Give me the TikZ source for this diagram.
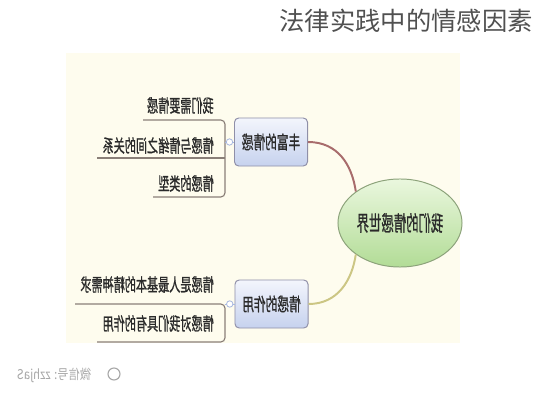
\documentclass[tikz,border=0pt]{standalone}
\usepackage{fontspec}
\usepackage{graphicx}
\newfontfamily\cjk{Noto Sans CJK SC}
\newfontfamily\cjkheavy[FakeBold=1.3]{Noto Sans CJK SC}
\usetikzlibrary{shapes.geometric,calc}
\definecolor{cream}{HTML}{FEFCEE}
\definecolor{inktext}{HTML}{2A2A2A}
\definecolor{titlegray}{HTML}{505050}
\definecolor{markgray}{HTML}{A8A8A8}
\definecolor{rootline}{HTML}{8CA27A}
\definecolor{roottop}{HTML}{EAF7DE}
\definecolor{rootbot}{HTML}{B2DC96}
\definecolor{hubline}{HTML}{8F8FA8}
\definecolor{hubtop}{HTML}{F3F5FC}
\definecolor{hubbot}{HTML}{C6D2EE}
\definecolor{stemline}{HTML}{8A7F78}
\definecolor{knobline}{HTML}{A8B8E0}
\definecolor{branchup}{HTML}{A86C6C}
\definecolor{branchdown}{HTML}{CCC684}
\newcommand{\Flip}[2]{\scalebox{-1}[#1]{#2}} % mirrored text, stretched upwards

\begin{document}
\begin{tikzpicture}[x=0.025cm, y=-0.025cm,
root/.style={ellipse, draw=rootline, line width=.7pt, top color=roottop, bottom color=rootbot,
  minimum width=3.1cm, minimum height=2.2cm, inner sep=0, text=inktext,
  font=\cjkheavy\fontsize{8.8pt}{10pt}\selectfont},
hub/.style={rectangle, rounded corners=3pt, draw=hubline, line width=.7pt, top color=hubtop, bottom color=hubbot,
  minimum width=1.825cm, minimum height=1.2cm, inner sep=0, text=inktext,
  font=\cjkheavy\fontsize{8.3pt}{9pt}\selectfont},
leaf/.style={anchor=south east, inner sep=0, text=inktext, font=\cjkheavy\fontsize{7.9pt}{9pt}\selectfont},
stem/.style={draw=stemline, line width=.8pt, rounded corners=3pt},
link/.style={draw=knobline, line width=.6pt},
knob/.style={circle, draw=knobline, fill=white, line width=.6pt, minimum size=.16cm, inner sep=0},
branch/.style={line width=1.4pt},
]

\useasboundingbox (0,0) rectangle (533,400);
\fill[cream] (66,53) rectangle (460,343); %%%%%% PAPER OF THE MAP

%%%%%%%%% TITLE %%%%%%%%%
\node[anchor=east, inner sep=0, text=titlegray, font=\cjk\fontsize{18pt}{20pt}\selectfont] (title) at (533,21) {法律实践中的情感因素};

%%%%%%%%% CENTER AND HUBS %%%%%%%%%
\node[root] (root) at (400,223) {\Flip{1.7}{我们的情感世界}};
\node[hub] (hub1) at (271,142) {\Flip{1.55}{丰富的情感}};
\node[hub] (hub2) at (271.5,304) {\Flip{1.55}{情感的作用}};

\draw[branch, branchup] (hub1.east) .. controls (338,142) and (352,165) .. (root.north west);
\draw[branch, branchdown] (hub2.east) .. controls (338,304) and (352,280) .. (root.south west);

%%%%%%%%% LEAVES, UPPER %%%%%%%%%
\node[leaf] (c11) at (214,114) {\Flip{1.6}{我们需要情感}};
\node[leaf] (c12) at (214,154) {\Flip{1.6}{情感与情绪之间的关系}};
\node[leaf] (c13) at (214,192) {\Flip{1.6}{情感的类型}};
\coordinate (u11) at (143,120);
\coordinate (u12) at (97,158);
\coordinate (u13) at (153,197);
\coordinate (brA) at (225,142);
\draw[stem] (u11) -| (brA) |- (u13);
\draw[stem] (u12) -- (u12 -| brA);
\draw[link] (brA) -- (hub1.west);
\node[knob] (k1) at ($(brA)!.5!(hub1.west)$) {};

%%%%%%%%% LEAVES, LOWER %%%%%%%%%
\node[leaf] (c21) at (214,293) {\Flip{1.6}{情感是人最基本的精神需求}};
\node[leaf] (c22) at (214,332) {\Flip{1.6}{情感对我们具有的作用}};
\coordinate (u21) at (75,304);
\coordinate (u22) at (97,342);
\coordinate (brB) at (225,304);
\draw[stem] (u21) -- (brB) |- (u22);
\draw[link] (brB) -- (hub2.west);
\node[knob] (k2) at ($(brB)!.5!(hub2.west)$) {};

%%%%%%%%% WATERMARK %%%%%%%%%
\node[anchor=west, inner sep=0, text=markgray, font=\cjk\fontsize{8pt}{9pt}\selectfont] (mark) at (17,375) {\Flip{1.2}{微信号: zzhjaS}};
\node[circle, draw=markgray, line width=.8pt, minimum size=.3cm, inner sep=0] (logo) at (114,374) {};
\end{tikzpicture}
\end{document}
